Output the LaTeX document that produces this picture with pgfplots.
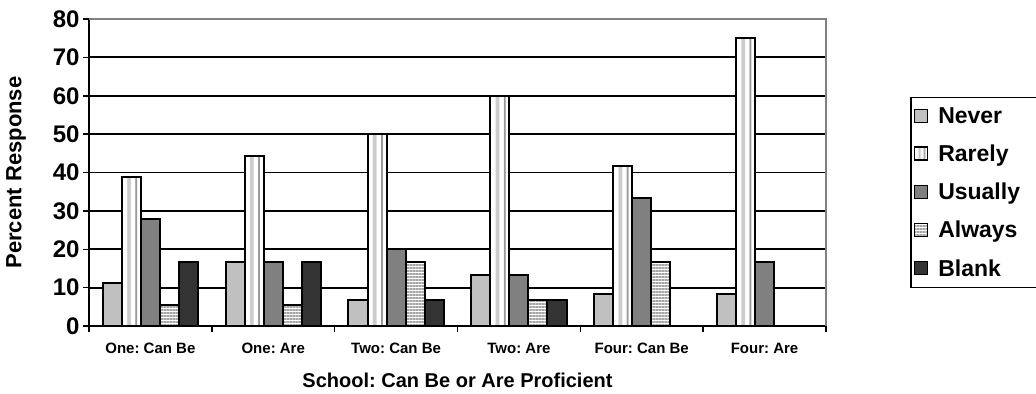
\documentclass[border=0pt]{standalone}
\usepackage{pgfplots}
\pgfplotsset{compat=1.18}
\usetikzlibrary{patterns.meta}
\usepackage{fontspec}
\setmainfont{Liberation Sans}
\frenchspacing
\definecolor{neverc}{HTML}{C0C0C0}
\definecolor{usualc}{HTML}{808080}
\definecolor{blankc}{HTML}{333333}
\pgfdeclarehorizontalshading{rarelysh}{100bp}{color(0bp)=(white); color(25bp)=(white); color(36bp)=(white); color(39bp)=(black!20); color(46bp)=(black!20); color(49bp)=(white); color(58bp)=(white); color(60bp)=(black!40); color(63bp)=(black!40); color(65bp)=(white); color(75bp)=(white); color(100bp)=(white)}
\pgfplotsset{myleg/.style={legend image code/.code={\draw[##1, line width=1.5bp] (1bp,-6bp) rectangle (14bp,7bp);}},
  barst/.style={draw=black, line width=2bp, myleg}}
\begin{document}
\begin{tikzpicture}
\path[use as bounding box] (0,0) rectangle (1036bp,394bp);
\begin{axis}[
 at={(89bp,68bp)}, anchor=south west,
 scale only axis, width=737bp, height=307bp,
 clip=false,
 ybar=0pt, bar width=0.155,
 xmin=-0.5, xmax=5.5, ymin=0, ymax=80,
 xtick={0,1,2,3,4,5},
 xticklabels={One: Can Be, One: Are, Two: Can Be, Two: Are, Four: Can Be, Four: Are},
 ytick={0,10,...,80},
 ymajorgrids, major grid style={black, line width=1.8bp},
 axis x line*=bottom, axis y line*=left,
 axis line style={black, line width=1.8bp, -},
 x tick style={draw=none},
 y tick style={black, line width=1.5bp},
 tick align=outside, major tick length=6bp,
 /pgf/number format/assume math mode=true,
 yticklabel style={font=\fontsize{24bp}{24bp}\selectfont\bfseries},
 xticklabel style={font=\fontsize{15bp}{15bp}\selectfont\bfseries, anchor=base, yshift=-22bp},
 xlabel={School: Can Be or Are Proficient},
 xlabel style={at={(axis description cs:0.5,-0.199)}, anchor=base, font=\fontsize{20bp}{20bp}\selectfont\bfseries},
 ylabel={Percent Response},
 ylabel style={at={(axis description cs:-0.099,0.5)}, anchor=center, font=\fontsize{22bp}{22bp}\selectfont\bfseries},
 legend style={at={(1.114,0.746)}, anchor=north west, draw=black, line width=1.5bp,
   font=\fontsize{23bp}{26bp}\selectfont\bfseries, inner xsep=3bp, inner ysep=8bp, row sep=16bp},
 legend cell align=left,
]
\addplot[fill=neverc, barst, bar shift=-0.31] coordinates {(0,11.1) (1,16.7) (2,6.7) (3,13.3) (4,8.3) (5,8.3)};
\addplot[shading=rarelysh, barst, bar shift=-0.155] coordinates {(0,38.9)};
\addplot[fill=usualc, barst, bar shift=0] coordinates {(0,27.8) (1,16.7) (2,20) (3,13.3) (4,33.3) (5,16.7)};
\addplot[fill=white, barst, bar shift=0.155, postaction={pattern={Lines[angle=0,distance=3bp,line width=1.5bp]}, pattern color=black!35}] coordinates {(0,5.6) (1,5.6) (2,16.7) (3,6.7) (4,16.7)};
\addplot[fill=blankc, barst, bar shift=0.31] coordinates {(0,16.7) (1,16.7) (2,6.7) (3,6.7)};
\addplot[shading=rarelysh, barst, bar shift=-0.155, forget plot] coordinates {(1,44.4)};
\addplot[shading=rarelysh, barst, bar shift=-0.155, forget plot] coordinates {(2,50)};
\addplot[shading=rarelysh, barst, bar shift=-0.155, forget plot] coordinates {(3,60)};
\addplot[shading=rarelysh, barst, bar shift=-0.155, forget plot] coordinates {(4,41.7)};
\addplot[shading=rarelysh, barst, bar shift=-0.155, forget plot] coordinates {(5,75)};
\legend{\makebox[102bp][l]{\hspace{8bp}Never}, \makebox[102bp][l]{\hspace{8bp}Rarely}, \makebox[102bp][l]{\hspace{8bp}Usually}, \makebox[102bp][l]{\hspace{8bp}Always}, \makebox[102bp][l]{\hspace{8bp}Blank}}
\draw[black!50, line width=1.8bp] (rel axis cs:0,1) -- (rel axis cs:1,1) -- (rel axis cs:1,0);
\pgfplotsinvokeforeach{-0.5,0.5,1.5,2.5,3.5,4.5,5.5}{\draw[black, line width=1.5bp] (axis cs:#1,0) -- ([yshift=-6bp]axis cs:#1,0);}
\end{axis}
\end{tikzpicture}
\end{document}
